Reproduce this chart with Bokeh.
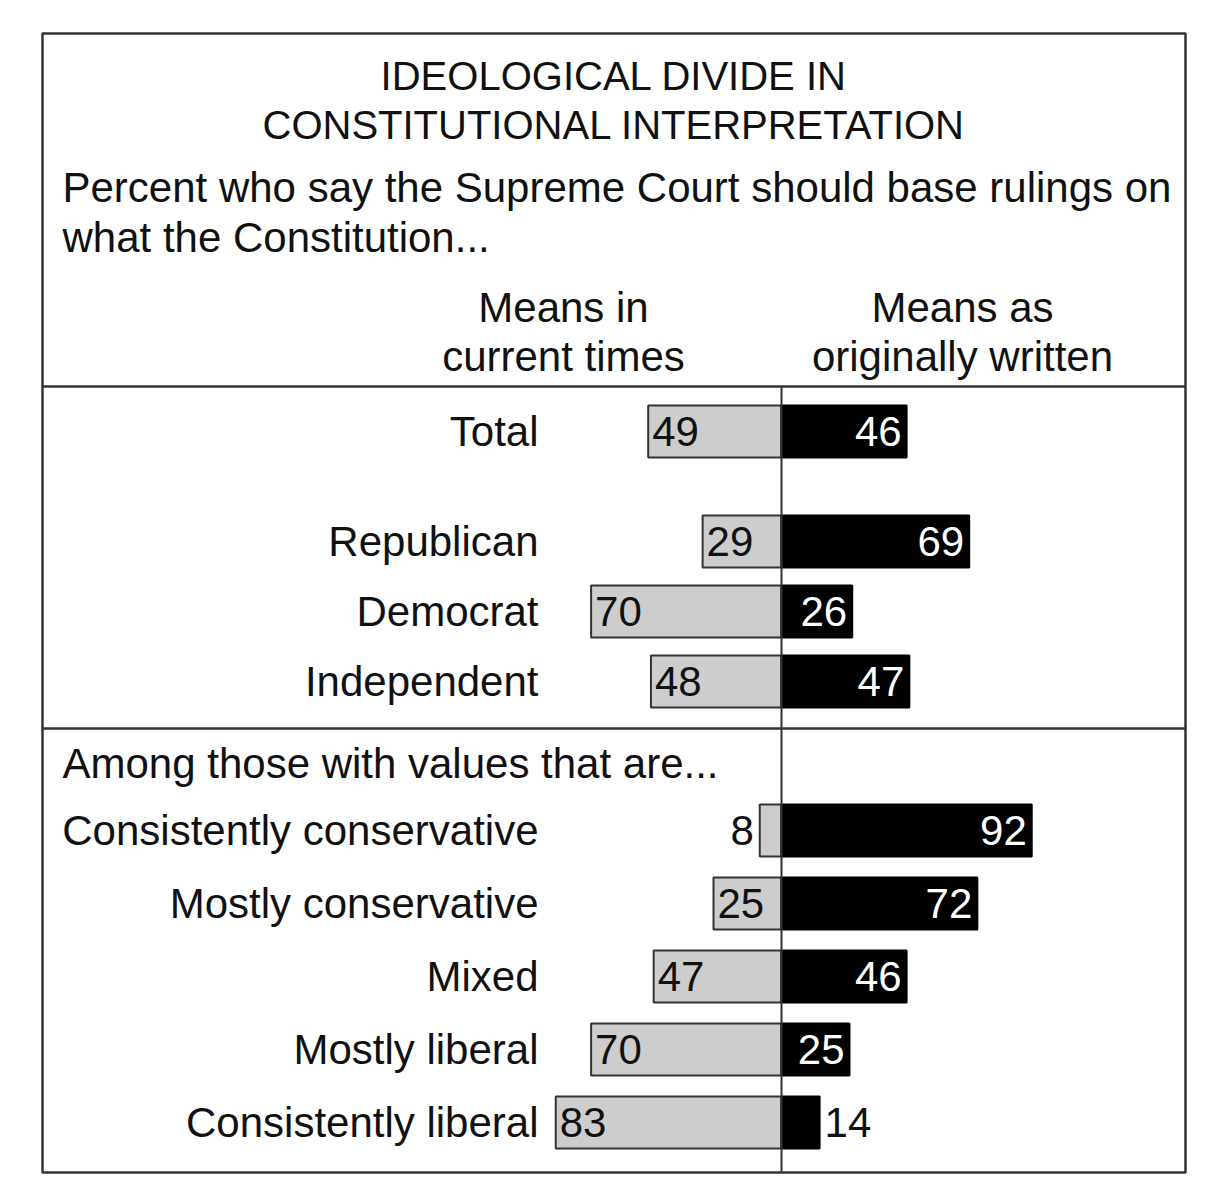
from bokeh.plotting import figure
from bokeh.models import Range1d, Span, Label
from bokeh.embed import file_html
from bokeh.resources import INLINE
from bokeh.core.properties import value

# Survey results (percent)
groups = ["Total", "Republican", "Democrat", "Independent",
          "Consistently conservative", "Mostly conservative", "Mixed",
          "Mostly liberal", "Consistently liberal"]
current_times = [49, 29, 70, 48, 8, 25, 47, 70, 83]
as_written = [46, 69, 26, 47, 92, 72, 46, 25, 14]

title_lines = ["IDEOLOGICAL DIVIDE IN", "CONSTITUTIONAL INTERPRETATION"]
subtitle_lines = ["Percent who say the Supreme Court should base rulings on",
                  "what the Constitution..."]
left_header = ["Means in", "current times"]
right_header = ["Means as", "originally written"]
section_note = "Among those with values that are..."

# ---- page layout (pixels) ----
W, H = 1212, 1200
FL, FR, FT, FB = 42, 1185, 33, 1172     # boxed frame
AXIS_PX = 781                           # zero line
PX_PER_PT = 2.72                        # bar scale
ROW_Y = [431, 541, 611, 681, 830, 903, 976, 1049, 1122]
BAR_H = 52
FONT = "Liberation Sans"
FS = "42px"
TITLE_FS = "40px"
INK = "#111111"


def px(x):
    """Page pixel column -> percent units on the x range."""
    return (x - AXIS_PX) / PX_PER_PT


p = figure(width=W, height=H, title=None,
           x_range=Range1d(px(FL), px(FR)),
           y_range=Range1d(FB, FT),
           output_backend="svg", toolbar_location=None,
           x_axis_location=None, y_axis_location=None,
           min_border_left=FL, min_border_right=W - FR,
           min_border_top=FT, min_border_bottom=H - FB)
p.grid.visible = False
p.outline_line_color = "#333333"
p.outline_line_width = 2.5
p.background_fill_color = "white"
p.border_fill_color = "white"

# section rules
for yy in (386, 728):
    p.add_layout(Span(location=yy, dimension="width",
                      line_color="#333333", line_width=2.5))

# bars
p.hbar(y=ROW_Y, left=[-v for v in current_times], right=0, height=BAR_H,
       fill_color="#cdcdcd", line_color="#333333", line_width=2)
p.hbar(y=ROW_Y, left=0, right=as_written, height=BAR_H,
       fill_color="black", line_color="black", line_width=2)

# zero line
p.segment(x0=[0], y0=[386], x1=[0], y1=[FB], line_color="#333333", line_width=2)

# category labels
p.text(x=px(538), y=ROW_Y, text=groups, text_align="right",
       text_baseline="middle", text_font=value(FONT), text_font_size=FS,
       text_color=INK)

# value labels: inside the bar when it is wide enough, otherwise outside
for v, yy in zip(current_times, ROW_Y):
    inside = v >= 20
    p.text(x=[-v], y=[yy], text=[str(v)],
           x_offset=4 if inside else -6,
           text_align="left" if inside else "right",
           text_baseline="middle", text_font=value(FONT),
           text_font_size=FS, text_color=INK)
for v, yy in zip(as_written, ROW_Y):
    inside = v >= 20
    p.text(x=[v], y=[yy], text=[str(v)],
           x_offset=-5 if inside else 5,
           text_align="right" if inside else "left",
           text_baseline="middle", text_font=value(FONT),
           text_font_size=FS, text_color="white" if inside else INK)


def label(txt, x, y, align="left", size=FS):
    p.add_layout(Label(x=px(x), y=y, text=txt, text_align=align,
                       text_baseline="middle", text_font=FONT,
                       text_font_size=size, text_color=INK))


for txt, yy in zip(title_lines, (75, 124)):
    label(txt, (FL + FR) / 2, yy, "center", TITLE_FS)
for txt, yy in zip(subtitle_lines, (187, 237)):
    label(txt, 62, yy)
for txt, yy in zip(left_header, (307, 356)):
    label(txt, 563, yy, "center")
for txt, yy in zip(right_header, (307, 356)):
    label(txt, 962, yy, "center")
label(section_note, 62, 763)

open("out.html", "w").write(file_html(p, INLINE))
